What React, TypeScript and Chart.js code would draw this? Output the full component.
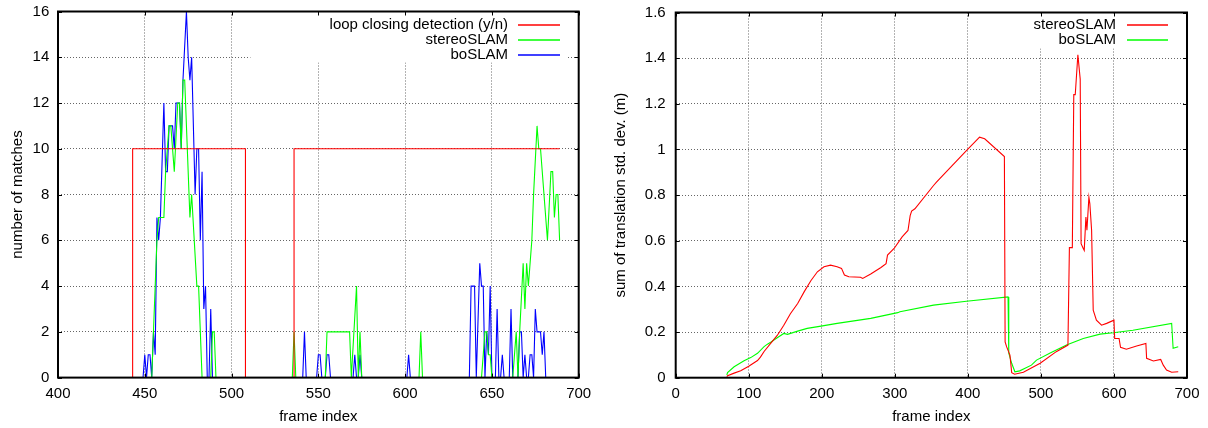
import React, { useEffect, useRef } from 'react';
import { Chart, registerables } from 'chart.js';

Chart.register(...registerables);

type Pt = [number, number];

const FONT_FAMILY = '"Liberation Sans", Arial, Helvetica, sans-serif';
const FS = 15;

// ---------- Left panel: number of matches ----------
const leftXTicks = [400, 450, 500, 550, 600, 650, 700];
const leftYTicks = [0, 2, 4, 6, 8, 10, 12, 14, 16];

const loopClosing: Pt[] = [
  [400, 0], [443, 0], [443, 10], [508, 10], [508, 0], [536, 0], [536, 10], [689, 10],
];

const stereoMatches: Pt[] = [
  [400, 0], [454, 0], [455, 2], [456, 4], [457, 6], [458, 7], [461, 7], [462, 9], [463, 10],
  [464, 11], [465, 11], [466, 10], [467, 9], [469, 12], [470, 12], [471, 10], [472, 13],
  [473, 13], [476, 7], [477, 8], [480, 4], [481, 4], [483, 0], [488, 0], [489, 2], [490, 2],
  [491, 0], [535, 0], [536, 2], [537, 0], [554, 0], [555, 2], [568, 2], [569, 0], [572, 4],
  [573, 0], [574, 2], [575, 0], [608, 0], [609, 2], [610, 0], [644, 0], [646, 2], [647, 2],
  [648, 1], [649, 1], [650, 0], [662, 0], [664, 2], [665, 0], [666, 2], [668, 5], [669, 3],
  [670, 5], [671, 4], [673, 6], [674, 8], [676, 11], [677, 10], [678, 10], [682, 6], [684, 9],
  [685, 9], [686, 7], [687, 8], [688, 8], [689, 6],
];

const boMatches: Pt[] = [
  [400, 0], [449, 0], [450, 1], [451, 0], [452, 1], [453, 1], [454, 0], [455, 2], [456, 1],
  [457, 7], [458, 6], [459, 7], [461, 12], [462, 9], [463, 9], [464, 11], [465, 11], [466, 11],
  [467, 10], [468, 12], [469, 12], [470, 12], [471, 10], [472, 13], [474, 16], [475, 14],
  [476, 13], [477, 14], [479, 8], [480, 10], [481, 10], [482, 6], [483, 9], [484, 3], [485, 4],
  [486, 0], [487, 0], [488, 3], [489, 0], [541, 0], [542, 2], [543, 0], [549, 0], [550, 1],
  [551, 1], [552, 0], [554, 0], [555, 1], [556, 1], [557, 0], [570, 0], [571, 1], [572, 0],
  [573, 0], [574, 1], [575, 0], [601, 0], [602, 1], [603, 0], [637, 0], [638, 4], [640, 4],
  [641, 0], [643, 5], [644, 4], [645, 4], [646, 0], [647, 2], [648, 1], [649, 4], [650, 0],
  [652, 0], [653, 3], [654, 0], [655, 0], [656, 1], [657, 0], [660, 0], [661, 3], [662, 0],
  [665, 0], [666, 2], [667, 2], [668, 0], [669, 1], [670, 0], [671, 0], [672, 1], [673, 1],
  [674, 0], [675, 3], [676, 2], [678, 2], [679, 1], [680, 2], [681, 0],
];

// ---------- Right panel: sum of translation std. dev. ----------
const rightXTicks = [0, 100, 200, 300, 400, 500, 600, 700];
const rightYTicks = [0, 0.2, 0.4, 0.6, 0.8, 1, 1.2, 1.4, 1.6];

const stereoStd: Pt[] = [
  [70, 0.005], [71, 0.009], [80, 0.02], [89, 0.03], [100, 0.05], [112, 0.075], [116, 0.09],
  [121, 0.115], [130, 0.15], [139, 0.185], [148, 0.23], [157, 0.28], [167, 0.325],
  [176, 0.377], [185, 0.425], [194, 0.464], [203, 0.486], [212, 0.493], [221, 0.486],
  [227, 0.479], [231, 0.45], [237, 0.442], [253, 0.44], [256, 0.435], [267, 0.454],
  [281, 0.483], [288, 0.5], [290, 0.537], [299, 0.566], [310, 0.617], [318, 0.645],
  [321, 0.71], [323, 0.73], [327.5, 0.74], [353, 0.842], [357, 0.857], [398, 0.995],
  [416, 1.054], [423, 1.047], [450, 0.969], [451, 0.157], [453, 0.136], [457.6, 0.099],
  [460, 0.022], [464, 0.015], [476, 0.024], [499, 0.063], [521, 0.114], [537, 0.143],
  [539, 0.57], [543, 0.57], [545, 1.24], [547, 1.24], [550.6, 1.415], [553.8, 1.308],
  [555, 0.587], [558, 0.566], [559.3, 0.558], [561.6, 0.704], [563, 0.646], [565.7, 0.791],
  [567, 0.762], [569.4, 0.646], [571.6, 0.296], [576, 0.252], [583, 0.23], [590, 0.238],
  [600, 0.252], [601, 0.172], [607, 0.172], [609, 0.133], [617, 0.125], [631, 0.139],
  [643.7, 0.15], [644.7, 0.085], [654, 0.073], [664, 0.08], [667.5, 0.055], [672, 0.034],
  [679, 0.024], [688, 0.026],
];

const boStd: Pt[] = [
  [70, 0.012], [71, 0.022], [80, 0.048], [93.6, 0.074], [102.7, 0.088], [112, 0.107],
  [121, 0.136], [125.6, 0.147], [130, 0.155], [139, 0.175], [148, 0.194], [153, 0.19],
  [167, 0.204], [180, 0.216], [199, 0.226], [221, 0.238], [267, 0.26], [304, 0.285],
  [307, 0.289], [353, 0.318], [398, 0.335], [455, 0.354], [456, 0.107], [460, 0.063],
  [464.4, 0.026], [471, 0.03], [487, 0.055], [494, 0.077], [512, 0.107], [535, 0.143],
  [558, 0.172], [581, 0.191], [599, 0.197], [626, 0.208], [679, 0.238], [681, 0.129],
  [688, 0.136],
];

const RED = '#ff0000';
const GREEN = '#00ff00';
const BLUE = '#0000ff';

interface SeriesCfg { label: string; color: string; data: Pt[] }
interface PanelCfg {
  series: SeriesCfg[];
  xMin: number; xMax: number; xTicks: number[];
  yMin: number; yMax: number; yTicks: number[];
  yFmt: (v: number) => string;
  yTitle: string;
  padTop: number; padRight: number; yWidth: number; xHeight: number;
  yTickPad: number; yTitlePad: number;
  key: { textFromRight: number; sampleFrom: number; sampleTo: number; rowOffset: number; boxFromRight: number; charW: number };
}

function font(size = FS) {
  return { family: FONT_FAMILY, size, weight: 'normal' as const, lineHeight: 1.2 };
}

function makePlugins(cfg: PanelCfg) {
  const keyPlugin = {
    id: 'gpKey',
    afterDatasetsDraw(chart: any) {
      const { ctx, chartArea: a } = chart;
      const k = cfg.key;
      const textRight = a.right - k.textFromRight;
      const maxChars = Math.max(...cfg.series.map((s) => s.label.length));
      const boxLeft = textRight - maxChars * k.charW;
      const boxRight = a.right - k.boxFromRight;
      const boxBottom = a.top + cfg.series.length * 15 + 6;
      ctx.save();
      ctx.fillStyle = '#ffffff';
      ctx.fillRect(boxLeft, a.top + 1, boxRight - boxLeft, boxBottom - a.top - 1);
      ctx.font = `${FS}px ${FONT_FAMILY}`;
      ctx.textAlign = 'right';
      ctx.textBaseline = 'middle';
      cfg.series.forEach((s, i) => {
        const y = a.top + k.rowOffset + i * 15;
        ctx.fillStyle = '#000';
        ctx.fillText(s.label, textRight, y);
      });
      ctx.lineWidth = 1.5;
      cfg.series.forEach((s, i) => {
        const y = Math.round(a.top + k.rowOffset + i * 15);
        ctx.strokeStyle = s.color;
        ctx.beginPath();
        ctx.moveTo(a.right - k.sampleFrom, y);
        ctx.lineTo(a.right - k.sampleTo, y);
        ctx.stroke();
      });
      ctx.restore();
    },
  };
  const framePlugin = {
    id: 'gpFrame',
    afterDraw(chart: any) {
      const { ctx, chartArea: a, scales } = chart;
      const tl = 4;
      ctx.save();
      ctx.strokeStyle = '#000';
      ctx.lineWidth = 1;
      ctx.beginPath();
      for (const v of cfg.xTicks) {
        const px = Math.round(scales.x.getPixelForValue(v)) + 0.5;
        ctx.moveTo(px, a.bottom); ctx.lineTo(px, a.bottom - tl);
        ctx.moveTo(px, a.top); ctx.lineTo(px, a.top + tl);
      }
      for (const v of cfg.yTicks) {
        const py = Math.round(scales.y.getPixelForValue(v)) + 0.5;
        ctx.moveTo(a.left, py); ctx.lineTo(a.left + tl, py);
        ctx.moveTo(a.right, py); ctx.lineTo(a.right - tl, py);
      }
      ctx.stroke();
      ctx.lineWidth = 2;
      ctx.strokeRect(a.left, a.top, a.right - a.left, a.bottom - a.top);
      ctx.restore();
    },
  };
  return [keyPlugin, framePlugin];
}

function Panel({ cfg }: { cfg: PanelCfg }) {
  const ref = useRef<HTMLCanvasElement | null>(null);
  useEffect(() => {
    if (!ref.current) return;
    const gridColor = 'rgba(0,0,0,0.6)';
    const chart = new Chart(ref.current, {
      type: 'line',
      data: {
        datasets: cfg.series.map((s) => ({
          label: s.label,
          data: s.data.map(([x, y]) => ({ x, y })),
          borderColor: s.color,
          backgroundColor: s.color,
          borderWidth: 1.1,
          pointRadius: 0,
          tension: 0,
          fill: false,
        })),
      },
      options: {
        animation: false,
        responsive: false,
        events: [],
        layout: { padding: { left: 0, top: cfg.padTop, right: cfg.padRight, bottom: 0 } },
        plugins: { legend: { display: false }, tooltip: { enabled: false } },
        scales: {
          x: {
            type: 'linear',
            min: cfg.xMin,
            max: cfg.xMax,
            afterBuildTicks: (s: any) => { s.ticks = cfg.xTicks.map((v) => ({ value: v })); },
            afterFit: (s: any) => {
              s.height = cfg.xHeight;
              s.paddingLeft = 0; s.paddingRight = 0; s.paddingTop = 0; s.paddingBottom = 0;
            },
            ticks: { font: font(), color: '#000', padding: 7.4, maxRotation: 0, autoSkip: false, callback: (v: any) => String(v) },
            grid: { color: gridColor, lineWidth: 1, drawTicks: false },
            border: { display: false, dash: [1, 2] },
            title: { display: true, text: 'frame index', font: font(), color: '#000', padding: { top: 0, bottom: 2.3 } },
          },
          y: {
            type: 'linear',
            min: cfg.yMin,
            max: cfg.yMax,
            afterBuildTicks: (s: any) => { s.ticks = cfg.yTicks.map((v) => ({ value: v })); },
            afterFit: (s: any) => {
              s.width = cfg.yWidth;
              s.paddingLeft = 0; s.paddingRight = 0; s.paddingTop = 0; s.paddingBottom = 0;
            },
            ticks: { font: font(), color: '#000', padding: cfg.yTickPad, autoSkip: false, callback: (v: any) => cfg.yFmt(Number(v)) },
            grid: { color: gridColor, lineWidth: 1, drawTicks: false },
            border: { display: false, dash: [1, 2] },
            title: { display: true, text: cfg.yTitle, font: font(), color: '#000', padding: { top: cfg.yTitlePad, bottom: 0 } },
          },
        },
      } as any,
      plugins: makePlugins(cfg) as any,
    });
    return () => chart.destroy();
  }, [cfg]);
  return <canvas ref={ref} width={604} height={428} style={{ width: 604, height: 428, display: 'block' }} />;
}

const leftCfg: PanelCfg = {
  series: [
    { label: 'loop closing detection (y/n)', color: RED, data: loopClosing },
    { label: 'stereoSLAM', color: GREEN, data: stereoMatches },
    { label: 'boSLAM', color: BLUE, data: boMatches },
  ],
  xMin: 400, xMax: 700, xTicks: leftXTicks,
  yMin: 0, yMax: 16, yTicks: leftYTicks,
  yFmt: (v) => String(v),
  yTitle: 'number of matches',
  padTop: 11.5, padRight: 25.3, yWidth: 58, xHeight: 50.4,
  yTickPad: 8.7, yTitlePad: 9,
  key: { textFromRight: 70.7, sampleFrom: 60.7, sampleTo: 18.7, rowOffset: 13.5, boxFromRight: 10.7, charW: 9.2 },
};

const rightCfg: PanelCfg = {
  series: [
    { label: 'stereoSLAM', color: RED, data: stereoStd },
    { label: 'boSLAM', color: GREEN, data: boStd },
  ],
  xMin: 0, xMax: 700, xTicks: rightXTicks,
  yMin: 0, yMax: 1.6, yTicks: rightYTicks,
  yFmt: (v) => v.toFixed(1).replace(/\.0$/, ''),
  yTitle: 'sum of translation std. dev. (m)',
  padTop: 12.5, padRight: 21, yWidth: 71.7, xHeight: 50.3,
  yTickPad: 10, yTitlePad: 7.7,
  key: { textFromRight: 71, sampleFrom: 60, sampleTo: 19, rowOffset: 12.5, boxFromRight: 10, charW: 9.2 },
};

export default function App() {
  return (
    <div style={{ position: 'absolute', left: 0, top: 0, width: 1208, height: 428, background: '#fff', display: 'flex' }}>
      <Panel cfg={leftCfg} />
      <Panel cfg={rightCfg} />
    </div>
  );
}
